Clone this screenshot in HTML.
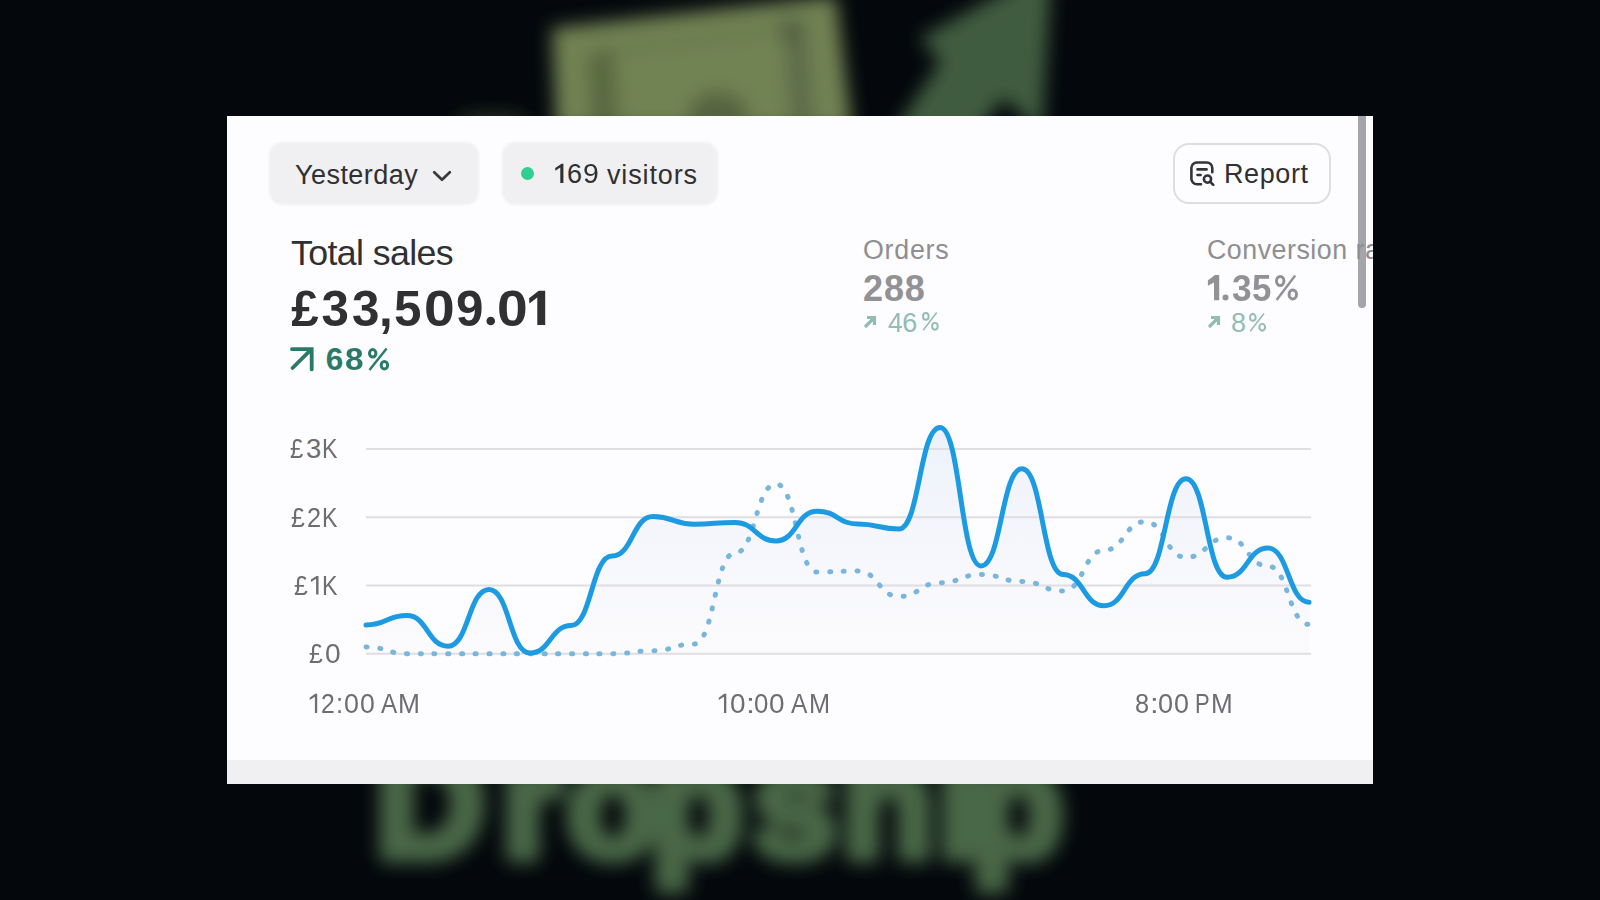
<!DOCTYPE html>
<html><head><meta charset="utf-8">
<style>
html,body{margin:0;padding:0;}
body{width:1600px;height:900px;overflow:hidden;background:#04080c;position:relative;font-family:"Liberation Sans",sans-serif;}
.bg{position:absolute;left:0;top:0;width:1600px;height:900px;}
.card{position:absolute;left:227px;top:116px;width:1146px;height:668px;background:#fdfcfe;overflow:hidden;}
.t{position:absolute;white-space:nowrap;line-height:1;}
.pill{position:absolute;background:#f0eff2;border-radius:14px;filter:blur(1px);}
</style></head>
<body>
<svg class="bg" width="1600" height="900" viewBox="0 0 1600 900">
 <defs>
  <filter id="bl" x="-20%" y="-20%" width="140%" height="140%"><feGaussianBlur stdDeviation="9"/></filter>
  <filter id="bl2" x="-20%" y="-20%" width="140%" height="140%"><feGaussianBlur stdDeviation="9"/></filter>
 </defs>
 <g filter="url(#bl)">
  <ellipse cx="492" cy="124" rx="38" ry="10" fill="#2c3420"/>
  <polygon points="552,28 836,-4 852,130 556,130" fill="#718253"/>
  <line x1="590" y1="52" x2="800" y2="26" stroke="#667649" stroke-width="7"/>
  <polygon points="588,55 614,52 618,130 592,130" fill="#58673f"/>
  <polygon points="784,24 806,20 814,130 792,130" fill="#5c6b48"/>
  <ellipse cx="790" cy="30" rx="10" ry="12" fill="#4e5c42"/>
  <ellipse cx="718" cy="116" rx="30" ry="24" fill="#55643f"/>
  <polygon points="1052,-35 920,38 940,62 892,135 975,135 1004,98 1042,135" fill="#3f5c40"/>
 </g>
 <text y="856" font-family="Liberation Sans" font-weight="bold" font-size="150" fill="#4a6746" stroke="#4a6746" stroke-width="13" stroke-linejoin="round" filter="url(#bl2)"><tspan x="376">D</tspan><tspan x="502">r</tspan><tspan x="567">o</tspan><tspan x="651">p</tspan><tspan x="753">s</tspan><tspan x="842">h</tspan><tspan x="938">i</tspan><tspan x="971">p</tspan></text>
</svg>
<div class="card">
 <div class="pill" style="left:42px;top:26px;width:210px;height:63px;"></div>
 <div class="t" style="left:68px;top:46px;font-size:27px;letter-spacing:0.45px;color:#303033;">Yesterday</div>
 <svg style="position:absolute;left:205px;top:54px" width="20" height="12" viewBox="0 0 20 12"><path d="M2.2,2.2 L10,9.8 L17.8,2.2" fill="none" stroke="#3a393d" stroke-width="2.7" stroke-linecap="round" stroke-linejoin="round"/></svg>
 <div class="pill" style="left:275px;top:26px;width:216px;height:63px;"></div>
 <div style="position:absolute;left:294px;top:51px;width:13px;height:13px;border-radius:50%;background:#2ecf8f;"></div>
 
 <div style="position:absolute;left:946px;top:27px;width:154px;height:57px;border:2px solid #dedde1;border-radius:16px;"></div>
 <svg style="position:absolute;left:962px;top:44px" width="28" height="28" viewBox="0 0 28 28"><g fill="none" stroke="#343337" stroke-width="2.6" stroke-linecap="round"><path d="M12,24.2 H7.9 a5.5,5.5 0 0 1 -5.5,-5.5 V8 a5.5,5.5 0 0 1 5.5,-5.5 H17.8 a5.5,5.5 0 0 1 5.5,5.5 V12.3"/><path d="M8.5,9.4 H17.6 M8.5,15 H11.6"/><circle cx="18.5" cy="19.1" r="3.6"/><path d="M21.4,22 L24.3,24.9"/></g></svg>
 <div class="t" style="left:997px;top:45px;font-size:27px;letter-spacing:0.6px;color:#303033;">Report</div>
 <div style="position:absolute;left:1131px;top:0;width:8px;height:192px;background:rgba(110,109,118,0.62);border-radius:0 0 4px 4px;"></div>
 <div class="t" style="left:64px;top:120px;font-size:35.7px;letter-spacing:-0.6px;color:#303033;">Total sales</div>
 <div class="t" style="left:64.2px;top:168px;font-size:49.3px;font-weight:bold;color:#303033;">£</div><div class="t" style="left:94.4px;top:168px;font-size:49.3px;font-weight:bold;color:#303033;">3</div><div class="t" style="left:125.1px;top:168px;font-size:49.3px;font-weight:bold;color:#303033;">3</div><div class="t" style="left:152.0px;top:168px;font-size:49.3px;font-weight:bold;color:#303033;">,</div><div class="t" style="left:166.9px;top:168px;font-size:49.3px;font-weight:bold;color:#303033;">5</div><div class="t" style="left:197.1px;top:168px;font-size:49.3px;font-weight:bold;color:#303033;transform:scaleX(1.12);transform-origin:0 0;">0</div><div class="t" style="left:229.0px;top:168px;font-size:49.3px;font-weight:bold;color:#303033;">9</div><div class="t" style="left:270.0px;top:168px;font-size:49.3px;font-weight:bold;color:#303033;transform:scaleX(1.12);transform-origin:0 0;">0</div>
 <svg style="position:absolute;left:61px;top:229px" width="28" height="28" viewBox="0 0 28 28"><path d="M4.5,23 L23.5,4.2 M4,4.2 H23.7 V24.4" fill="none" stroke="#2a7a68" stroke-width="3.8" stroke-linecap="round" stroke-linejoin="miter"/></svg>
 <div class="t" style="left:98.7px;top:228px;font-size:31.5px;font-weight:bold;color:#2a7a68;">6</div><div class="t" style="left:117.6px;top:228px;font-size:31.5px;font-weight:bold;color:#2a7a68;transform:scaleX(1.06);transform-origin:0 0;">8</div><svg style="position:absolute;left:136.5px;top:227.8px" width="29.1" height="30.5"><g transform="translate(-363.5,-343.8)" fill="none" stroke="#2a7a68" stroke-width="3.0"><ellipse cx="372.2" cy="353.1" rx="3.2" ry="3.8"/><ellipse cx="383.9" cy="365.0" rx="3.2" ry="3.8"/><line x1="386.1" y1="348.3" x2="369.0" y2="369.8" stroke-width="2.4"/></g></svg>
 <div class="t" style="left:636px;top:121px;font-size:26.8px;letter-spacing:0.75px;color:#8f8e92;">Orders</div>
 <div class="t" style="left:636px;top:155px;font-size:36px;font-weight:bold;letter-spacing:0.9px;color:#929195;">288</div>
 <svg style="position:absolute;left:636px;top:199px" width="14" height="14" viewBox="0 0 14 14"><path d="M2,12 L11,3 M4,2.5 H11.5 V10" fill="none" stroke="#93bcb2" stroke-width="3.2"/></svg>
 <div class="t" style="left:660.6px;top:194px;font-size:27px;font-weight:normal;color:#93bcb2;transform:scaleX(0.98);transform-origin:0 0;">4</div><div class="t" style="left:675.3px;top:194px;font-size:27px;font-weight:normal;color:#93bcb2;">6</div><svg style="position:absolute;left:691.0px;top:192.3px" width="24.7" height="26.7"><g transform="translate(-918.0,-308.3)" fill="none" stroke="#93bcb2" stroke-width="1.9"><ellipse cx="925.8" cy="316.7" rx="2.8" ry="3.4"/><ellipse cx="934.9" cy="326.6" rx="2.8" ry="3.4"/><line x1="936.7" y1="312.8" x2="923.2" y2="330.5" stroke-width="1.5"/></g></svg>
 <div class="t" style="left:980px;top:121px;font-size:26.8px;letter-spacing:0.5px;color:#8f8e92;">Conversion rate</div>
 <div class="t" style="left:1004.5px;top:155px;font-size:36px;font-weight:bold;color:#929195;transform:scaleX(0.98);transform-origin:0 0;">3</div><div class="t" style="left:1025.3px;top:155px;font-size:36px;font-weight:bold;color:#929195;transform:scaleX(0.97);transform-origin:0 0;">5</div><svg style="position:absolute;left:1044.0px;top:155.0px" width="31.0" height="33.4"><g transform="translate(-1271.0,-271.0)" fill="none" stroke="#929195" stroke-width="3.0"><ellipse cx="1280.2" cy="281.0" rx="3.7" ry="4.5"/><ellipse cx="1292.8" cy="294.4" rx="3.7" ry="4.5"/><line x1="1295.2" y1="275.5" x2="1276.6" y2="299.9" stroke-width="2.4"/></g></svg>
 <svg style="position:absolute;left:980px;top:199px" width="14" height="14" viewBox="0 0 14 14"><path d="M2,12 L11,3 M4,2.5 H11.5 V10" fill="none" stroke="#93bcb2" stroke-width="3.2"/></svg>
 <div class="t" style="left:1004.0px;top:194px;font-size:27px;font-weight:normal;color:#93bcb2;">8</div><svg style="position:absolute;left:1018.0px;top:192.5px" width="25.0" height="26.7"><g transform="translate(-1245.0,-308.5)" fill="none" stroke="#93bcb2" stroke-width="1.9"><ellipse cx="1252.8" cy="316.9" rx="2.9" ry="3.4"/><ellipse cx="1262.2" cy="326.8" rx="2.9" ry="3.4"/><line x1="1264.0" y1="313.0" x2="1250.2" y2="330.7" stroke-width="1.5"/></g></svg>
 <div style="position:absolute;left:0;top:644px;width:1146px;height:24px;background:#f0eff2;"></div>
</div>
<svg style="position:absolute;left:0;top:0" width="1600" height="900" viewBox="0 0 1600 900">
 <defs><linearGradient id="ag" x1="0" y1="0" x2="0" y2="1"><stop offset="0" stop-color="#ecf2fb"/><stop offset="0.45" stop-color="#f5f6fc"/><stop offset="1" stop-color="#fbfbfd"/></linearGradient></defs>
 <path d="M366.00,625.00 C386.50,625.00 386.50,615.60 407.00,615.60 C427.50,615.60 427.50,646.25 448.00,646.25 C468.50,646.25 468.50,589.40 489.00,589.40 C509.50,589.40 509.50,653.10 530.00,653.10 C550.50,653.10 550.50,625.60 571.00,625.60 C591.50,625.60 591.50,556.00 612.00,556.00 C632.50,556.00 632.50,516.60 653.00,516.60 C673.50,516.60 673.50,524.20 694.00,524.20 C714.50,524.20 714.50,522.50 735.00,522.50 C755.50,522.50 755.50,540.90 776.00,540.90 C796.50,540.90 796.50,511.20 817.00,511.20 C837.50,511.20 837.50,524.00 858.00,524.00 C878.50,524.00 878.50,529.00 899.00,529.00 C919.50,529.00 919.50,427.50 940.00,427.50 C960.50,427.50 960.50,565.90 981.00,565.90 C1001.50,565.90 1001.50,468.80 1022.00,468.80 C1042.50,468.80 1042.50,574.50 1063.00,574.50 C1083.50,574.50 1083.50,605.80 1104.00,605.80 C1124.50,605.80 1124.50,573.80 1145.00,573.80 C1165.50,573.80 1165.50,478.70 1186.00,478.70 C1206.50,478.70 1206.50,577.30 1227.00,577.30 C1247.50,577.30 1247.50,548.00 1268.00,548.00 C1288.50,548.00 1288.50,602.20 1309.00,602.20 L1309,653.8 L366,653.8 Z" fill="url(#ag)"/>
 <g stroke="#dfdee2" stroke-width="2">
  <line x1="366" y1="449" x2="1311" y2="449"/>
  <line x1="366" y1="517.3" x2="1311" y2="517.3"/>
  <line x1="366" y1="585.6" x2="1311" y2="585.6"/>
  <line x1="366" y1="653.8" x2="1311" y2="653.8"/>
 </g>
 <path d="M366.00,646.90 C386.50,646.90 386.50,653.70 407.00,653.70 C427.50,653.70 427.50,653.80 448.00,653.80 C468.50,653.80 468.50,653.80 489.00,653.80 C509.50,653.80 509.50,653.80 530.00,653.80 C550.50,653.80 550.50,653.80 571.00,653.80 C591.50,653.80 591.50,653.80 612.00,653.80 C632.50,653.80 632.50,650.70 653.00,650.70 C673.50,650.70 673.50,644.00 694.00,644.00 C714.50,644.00 714.50,553.00 735.00,553.00 C755.50,553.00 755.50,484.00 776.00,484.00 C796.50,484.00 796.50,572.00 817.00,572.00 C837.50,572.00 837.50,571.10 858.00,571.10 C878.50,571.10 878.50,596.50 899.00,596.50 C919.50,596.50 919.50,582.70 940.00,582.70 C960.50,582.70 960.50,574.50 981.00,574.50 C1001.50,574.50 1001.50,581.50 1022.00,581.50 C1042.50,581.50 1042.50,591.00 1063.00,591.00 C1083.50,591.00 1083.50,550.30 1104.00,550.30 C1124.50,550.30 1124.50,521.70 1145.00,521.70 C1165.50,521.70 1165.50,557.40 1186.00,557.40 C1206.50,557.40 1206.50,537.70 1227.00,537.70 C1247.50,537.70 1247.50,566.10 1268.00,566.10 C1288.50,566.10 1288.50,624.40 1309.00,624.40" fill="none" stroke="#78b6dc" stroke-width="5" stroke-linecap="round" stroke-dasharray="1 12.75"/>
 <path d="M366.00,625.00 C386.50,625.00 386.50,615.60 407.00,615.60 C427.50,615.60 427.50,646.25 448.00,646.25 C468.50,646.25 468.50,589.40 489.00,589.40 C509.50,589.40 509.50,653.10 530.00,653.10 C550.50,653.10 550.50,625.60 571.00,625.60 C591.50,625.60 591.50,556.00 612.00,556.00 C632.50,556.00 632.50,516.60 653.00,516.60 C673.50,516.60 673.50,524.20 694.00,524.20 C714.50,524.20 714.50,522.50 735.00,522.50 C755.50,522.50 755.50,540.90 776.00,540.90 C796.50,540.90 796.50,511.20 817.00,511.20 C837.50,511.20 837.50,524.00 858.00,524.00 C878.50,524.00 878.50,529.00 899.00,529.00 C919.50,529.00 919.50,427.50 940.00,427.50 C960.50,427.50 960.50,565.90 981.00,565.90 C1001.50,565.90 1001.50,468.80 1022.00,468.80 C1042.50,468.80 1042.50,574.50 1063.00,574.50 C1083.50,574.50 1083.50,605.80 1104.00,605.80 C1124.50,605.80 1124.50,573.80 1145.00,573.80 C1165.50,573.80 1165.50,478.70 1186.00,478.70 C1206.50,478.70 1206.50,577.30 1227.00,577.30 C1247.50,577.30 1247.50,548.00 1268.00,548.00 C1288.50,548.00 1288.50,602.20 1309.00,602.20" fill="none" stroke="#1c9be2" stroke-width="5" stroke-linecap="round" stroke-linejoin="round"/>
 <polygon points="529.1,298.2 538.7,290.8 545.2,290.8 545.2,325 537.3,325 537.3,297.6 529.4,303.4" fill="#303033"/><circle cx="490.75" cy="321" r="4.3" fill="#303033"/><polygon points="1207.9,280.6 1214.9,275 1219.2,275 1219.2,300.2 1214,300.2 1214,282.4 1207.9,285.8" fill="#929195"/><circle cx="1225.5" cy="297.6" r="3" fill="#929195"/>
 <polygon points="718.8,697.8 724.2,693.8 726.3,693.8 726.3,713 724,713 724,696.7 718.8,700.1" fill="#6e6d72"/><polygon points="309.7,697.8 315.1,693.8 317.2,693.8 317.2,713 314.9,713 314.9,696.7 309.7,700.1" fill="#6e6d72"/><polygon points="310.9,579.6 316.6,575.9 318.5,575.9 318.5,594.6 316.1,594.6 316.1,578.8 310.9,582" fill="#6e6d72"/><polygon points="555.25,167.9 561.6,163.8 563.4,163.8 563.4,182.9 560.3,182.9 560.3,167.6 555.25,170.8" fill="#303033"/>
</svg>
<div class="t" style="left:321.4px;top:690.0px;font-size:27.5px;font-weight:normal;color:#6e6d72;transform:scaleX(0.900);transform-origin:0 0;">2</div><div class="t" style="left:336.4px;top:690.0px;font-size:27.5px;font-weight:normal;color:#6e6d72;transform:scaleX(0.933);transform-origin:0 0;">:</div><div class="t" style="left:343.8px;top:690.0px;font-size:27.5px;font-weight:normal;color:#6e6d72;transform:scaleX(0.977);transform-origin:0 0;">0</div><div class="t" style="left:359.8px;top:690.0px;font-size:27.5px;font-weight:normal;color:#6e6d72;transform:scaleX(0.969);transform-origin:0 0;">0</div><div class="t" style="left:381.0px;top:690.0px;font-size:27.5px;font-weight:normal;color:#6e6d72;transform:scaleX(0.883);transform-origin:0 0;">A</div><div class="t" style="left:398.3px;top:690.0px;font-size:27.5px;font-weight:normal;color:#6e6d72;transform:scaleX(0.958);transform-origin:0 0;">M</div><div class="t" style="left:730.0px;top:690.0px;font-size:27.5px;font-weight:normal;color:#6e6d72;transform:scaleX(1.015);transform-origin:0 0;">0</div><div class="t" style="left:745.8px;top:690.0px;font-size:27.5px;font-weight:normal;color:#6e6d72;transform:scaleX(1.167);transform-origin:0 0;">:</div><div class="t" style="left:753.8px;top:690.0px;font-size:27.5px;font-weight:normal;color:#6e6d72;transform:scaleX(0.938);transform-origin:0 0;">0</div><div class="t" style="left:769.4px;top:690.0px;font-size:27.5px;font-weight:normal;color:#6e6d72;transform:scaleX(1.015);transform-origin:0 0;">0</div><div class="t" style="left:790.6px;top:690.0px;font-size:27.5px;font-weight:normal;color:#6e6d72;transform:scaleX(0.894);transform-origin:0 0;">A</div><div class="t" style="left:808.9px;top:690.0px;font-size:27.5px;font-weight:normal;color:#6e6d72;transform:scaleX(0.921);transform-origin:0 0;">M</div><div class="t" style="left:1135.3px;top:690.0px;font-size:27.5px;font-weight:normal;color:#6e6d72;transform:scaleX(0.923);transform-origin:0 0;">8</div><div class="t" style="left:1149.7px;top:690.0px;font-size:27.5px;font-weight:normal;color:#6e6d72;transform:scaleX(1.133);transform-origin:0 0;">:</div><div class="t" style="left:1158.1px;top:690.0px;font-size:27.5px;font-weight:normal;color:#6e6d72;transform:scaleX(0.985);transform-origin:0 0;">0</div><div class="t" style="left:1173.9px;top:690.0px;font-size:27.5px;font-weight:normal;color:#6e6d72;transform:scaleX(0.977);transform-origin:0 0;">0</div><div class="t" style="left:1194.7px;top:690.0px;font-size:27.5px;font-weight:normal;color:#6e6d72;transform:scaleX(0.800);transform-origin:0 0;">P</div><div class="t" style="left:1211.2px;top:690.0px;font-size:27.5px;font-weight:normal;color:#6e6d72;transform:scaleX(0.947);transform-origin:0 0;">M</div><div class="t" style="left:289.9px;top:435.1px;font-size:27.5px;font-weight:normal;color:#6e6d72;transform:scaleX(0.871);transform-origin:0 0;">£</div><div class="t" style="left:306.1px;top:435.1px;font-size:27.5px;font-weight:normal;color:#6e6d72;">3</div><div class="t" style="left:322.3px;top:435.1px;font-size:27.5px;font-weight:normal;color:#6e6d72;transform:scaleX(0.844);transform-origin:0 0;">K</div><div class="t" style="left:290.5px;top:503.7px;font-size:27.5px;font-weight:normal;color:#6e6d72;transform:scaleX(0.907);transform-origin:0 0;">£</div><div class="t" style="left:307.0px;top:503.7px;font-size:27.5px;font-weight:normal;color:#6e6d72;transform:scaleX(0.923);transform-origin:0 0;">2</div><div class="t" style="left:322.3px;top:503.7px;font-size:27.5px;font-weight:normal;color:#6e6d72;transform:scaleX(0.844);transform-origin:0 0;">K</div><div class="t" style="left:294.0px;top:571.9px;font-size:27.5px;font-weight:normal;color:#6e6d72;transform:scaleX(0.900);transform-origin:0 0;">£</div><div class="t" style="left:322.3px;top:571.9px;font-size:27.5px;font-weight:normal;color:#6e6d72;transform:scaleX(0.844);transform-origin:0 0;">K</div><div class="t" style="left:308.5px;top:640.3px;font-size:27.5px;font-weight:normal;color:#6e6d72;transform:scaleX(0.900);transform-origin:0 0;">£</div><div class="t" style="left:324.6px;top:640.3px;font-size:27.5px;font-weight:normal;color:#6e6d72;transform:scaleX(1.023);transform-origin:0 0;">0</div>
<div class="t" style="left:567.0px;top:161.0px;font-size:27px;font-weight:normal;color:#303033;">6</div><div class="t" style="left:583.2px;top:161.0px;font-size:27px;font-weight:normal;color:#303033;transform:scaleX(1.054);transform-origin:0 0;">9</div><div class="t" style="left:607px;top:162px;font-size:27px;letter-spacing:0.86px;color:#303033;">visitors</div>
</body></html>
